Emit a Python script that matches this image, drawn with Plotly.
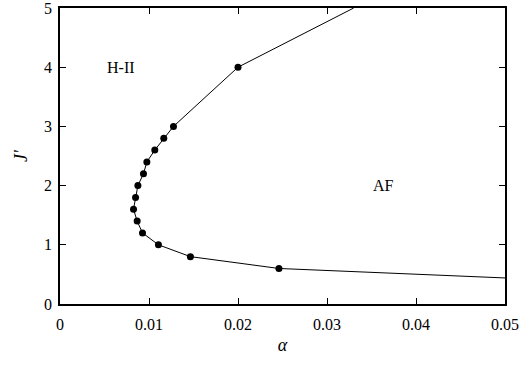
import plotly.graph_objects as go

# boundary points (alpha, J')
alpha_pts = [0.0246, 0.01465, 0.01106, 0.00927, 0.00867, 0.00826, 0.00849, 0.00875,
             0.00938, 0.00976, 0.01065, 0.01166, 0.01275, 0.0200]
J_pts = [0.6, 0.8, 1.0, 1.2, 1.4, 1.6, 1.8, 2.0, 2.2, 2.4, 2.6, 2.8, 3.0, 4.0]

# line extensions to the frame edges
line_alpha = [0.05] + alpha_pts + [0.0330]
line_J = [0.44] + J_pts + [5.0]

xticks = [0, 0.01, 0.02, 0.03, 0.04, 0.05]
xticklabels = ["0", "0.01", "0.02", "0.03", "0.04", "0.05"]
yticks = [0, 1, 2, 3, 4, 5]

font_family = "Liberation Serif, Times New Roman, serif"

fig = go.Figure()
fig.add_trace(go.Scatter(x=line_alpha, y=line_J, mode="lines",
                         line=dict(color="black", width=1), showlegend=False,
                         hoverinfo="skip"))
fig.add_trace(go.Scatter(x=alpha_pts, y=J_pts, mode="markers",
                         marker=dict(color="black", size=7), showlegend=False))

fig.add_annotation(x=0.0068, y=4.0, text="H-II", showarrow=False,
                   font=dict(size=16, color="black", family=font_family))
fig.add_annotation(x=0.0363, y=2.0, text="AF", showarrow=False,
                   font=dict(size=16, color="black", family=font_family))

axis_common = dict(showgrid=False, zeroline=False, showline=True, linecolor="black",
                   linewidth=1.5, mirror="ticks", ticks="inside", ticklen=6,
                   tickcolor="black", tickwidth=1, ticklabeloverflow="allow",
                   automargin=False,
                   tickfont=dict(size=16, color="black", family=font_family))

fig.update_xaxes(range=[0, 0.05], tickvals=xticks, ticktext=xticklabels,
                 ticklabelstandoff=5,
                 title=dict(text="<i>α</i>", font=dict(size=18, color="black", family=font_family),
                            standoff=6),
                 **axis_common)
fig.update_yaxes(range=[0, 5], tickvals=yticks, ticklabelstandoff=3,
                 title=dict(text="<i>J'</i>", font=dict(size=18, color="black", family=font_family),
                            standoff=12),
                 **axis_common)

fig.update_layout(width=521, height=366, margin=dict(l=59.5, r=16, t=8, b=61.5),
                  plot_bgcolor="white", paper_bgcolor="white",
                  font=dict(family=font_family, color="black"))

fig.write_html("out.html", config={"displayModeBar": False},
               post_script="document.body.style.margin='0px';")
